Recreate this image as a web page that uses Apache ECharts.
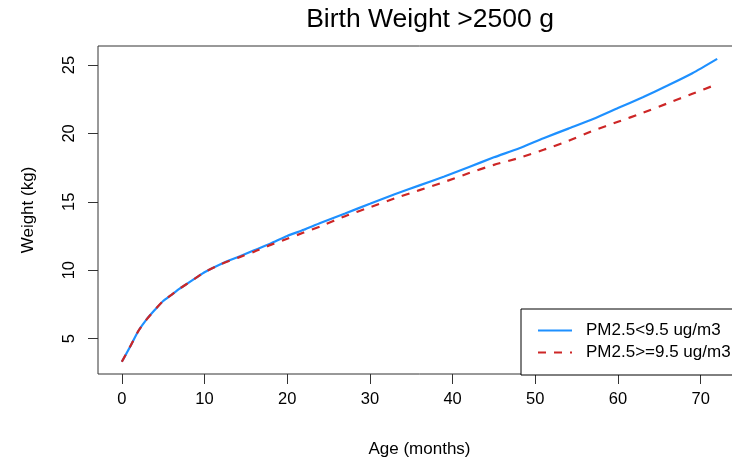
<!DOCTYPE html>
<html>
<head>
<meta charset="utf-8">
<script src="https://cdn.jsdelivr.net/npm/echarts@6/dist/echarts.min.js"></script>
<style>
html,body{margin:0;padding:0;background:#fff;overflow:hidden;width:732px;height:464px;}
#chart{width:760px;height:464px;}
</style>
</head>
<body>
<div id="chart"></div>
<script>
const ages = [0,1,2,3,4,5,6,7,8,9,10,12,14,16,18,20,22,24,27,30,33,36,39,42,45,48,51,54,57,60,63,66,69,72];
const weightLow = [3.3,4.4,5.55,6.4,7.1,7.75,8.2,8.65,9.05,9.45,9.85,10.45,10.95,11.45,11.95,12.5,12.95,13.45,14.15,14.85,15.55,16.2,16.85,17.55,18.25,18.9,19.65,20.35,21.05,21.85,22.65,23.5,24.4,25.45];
const weightHigh = [3.3,4.4,5.55,6.4,7.1,7.75,8.2,8.65,9.05,9.45,9.85,10.45,10.9,11.35,11.85,12.3,12.75,13.2,13.95,14.6,15.25,15.85,16.45,17.1,17.7,18.2,18.8,19.45,20.2,20.85,21.5,22.2,22.9,23.6];
const xTicks = [0,10,20,30,40,50,60,70];
const yTicks = [5,10,15,20,25];
const seriesNames = ['PM2.5<9.5 ug/m3','PM2.5>=9.5 ug/m3'];

const font = 'Liberation Sans, Arial, sans-serif';
const chart = echarts.init(document.getElementById('chart'));
chart.setOption({
  backgroundColor: '#fff',
  animation: false,
  title: {
    text: 'Birth Weight >2500 g',
    left: 430, top: 6, padding: 0, textAlign: 'center',
    textStyle: {fontFamily: font, fontSize: 26.5, fontWeight: 'normal', color: '#000'}
  },
  grid: {
    left: 98, top: 46, width: 643, height: 328,
    show: true, borderColor: '#333', borderWidth: 1, backgroundColor: 'transparent'
  },
  legend: {
    orient: 'vertical', left: 521, top: 309,
    backgroundColor: '#fff',
    borderColor: '#000', borderWidth: 1, borderRadius: 0,
    padding: [13, 40, 14, 16],
    itemWidth: 34, itemHeight: 14, itemGap: 5,
    itemStyle: {opacity: 0},
    textStyle: {fontFamily: font, fontSize: 17, color: '#000', padding: [0,0,0,9]},
    data: seriesNames
  },
  xAxis: {
    type: 'value', min: -2.88, max: 74.88,
    name: 'Age (months)', nameLocation: 'middle', nameGap: 67,
    nameTextStyle: {fontFamily: font, fontSize: 17, color: '#000'},
    axisLine: {show: false, onZero: false},
    axisTick: {show: true, inside: false, length: 10, customValues: xTicks, lineStyle: {color: '#333'}},
    axisLabel: {customValues: xTicks, margin: 17, fontFamily: font, fontSize: 16.5, color: '#000'},
    splitLine: {show: false}
  },
  yAxis: {
    type: 'value', min: 2.41, max: 26.39,
    name: 'Weight (kg)', nameLocation: 'middle', nameGap: 61,
    nameTextStyle: {fontFamily: font, fontSize: 17, color: '#000'},
    axisLine: {show: false, onZero: false},
    axisTick: {show: true, inside: false, length: 10, customValues: yTicks, lineStyle: {color: '#333'}},
    axisLabel: {customValues: yTicks, rotate: 90, margin: 20, fontFamily: font, fontSize: 16.5, color: '#000'},
    splitLine: {show: false}
  },
  series: [
    {
      name: seriesNames[0], type: 'line', symbol: 'none', smooth: 0.2,
      data: ages.map((a, i) => [a, weightLow[i]]),
      lineStyle: {color: '#1E90FF', width: 2.2, type: 'solid'},
      itemStyle: {color: '#1E90FF'}, z: 2
    },
    {
      name: seriesNames[1], type: 'line', symbol: 'none', smooth: 0.2,
      data: ages.map((a, i) => [a, weightHigh[i]]),
      lineStyle: {color: '#CD2626', width: 2.2, type: [8, 8]},
      itemStyle: {color: '#CD2626'}, z: 3
    }
  ]
});
</script>
</body>
</html>
